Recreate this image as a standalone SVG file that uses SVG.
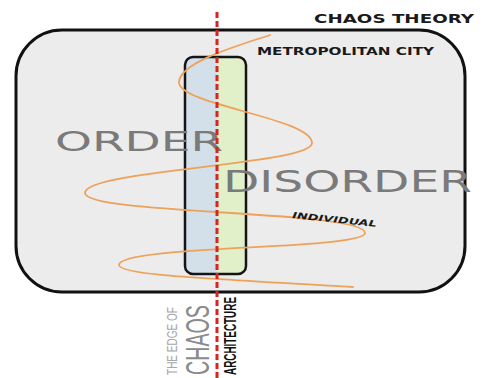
<svg xmlns="http://www.w3.org/2000/svg" width="484" height="378" viewBox="0 0 484 378">
  <style>
    .frame { fill: #ececec; stroke: #111; stroke-width: 3; }
    .pill { fill: none; stroke: #151515; stroke-width: 2.5; }
    .wave { fill: none; stroke: #eda25a; stroke-width: 1.8; stroke-linecap: round; }
    .axis { stroke: #d8231f; stroke-width: 3; stroke-dasharray: 6 3; }
    .big { font-family: "DejaVu Sans", "Liberation Sans", sans-serif; fill: #7a7a7a; }
    .title { font-family: "DejaVu Sans", "Liberation Sans", sans-serif; font-weight: bold; fill: #1a1a1a; }
  </style>
  <rect width="484" height="378" fill="#ffffff"/>
  <g id="frame">
    <rect class="frame" x="16" y="30" width="449" height="262" rx="46" ry="46"/>
  </g>
  <g id="pillar">
    <path d="M217,57 H193 Q185,57 185,65 V266 Q185,274 193,274 H217 Z" fill="#d3e0ea"/>
    <path d="M217,57 H238 Q246,57 246,65 V266 Q246,274 238,274 H217 Z" fill="#e1f0c9"/>
    <rect class="pill" x="185" y="57" width="61" height="217" rx="8" ry="8"/>
  </g>
  <g id="connectors">
    <path id="individual-wave" class="wave" d="M270,35 C240,45 180,62 179,82 C178,105 312,118 312,143 C312,165 85,170 85,193 C85,215 365,210 365,233 C365,250 119,245 119,265 C120,275 200,278 353,287"/>
  </g>
  <g id="labels">
    <text class="title" x="314" y="23" font-size="13" textLength="160" lengthAdjust="spacingAndGlyphs">CHAOS THEORY</text>
    <text id="metropolitan" class="title" x="257" y="55" font-size="10" textLength="177" lengthAdjust="spacingAndGlyphs">METROPOLITAN CITY</text>
    <text id="order" class="big" x="55" y="151" font-size="27" textLength="168" lengthAdjust="spacingAndGlyphs">ORDER</text>
    <text id="disorder" class="big" x="223" y="192" font-size="30" textLength="249" lengthAdjust="spacingAndGlyphs">DISORDER</text>
    <text id="individual" class="title" font-size="8.5" font-style="italic" fill="#333" transform="translate(292,218) rotate(6)" textLength="85" lengthAdjust="spacingAndGlyphs">INDIVIDUAL</text>
    <text id="edge" font-family="Liberation Sans, sans-serif" font-size="15" fill="#a8a8a8" transform="translate(177,375) rotate(-90)" textLength="68" lengthAdjust="spacingAndGlyphs">THE EDGE OF</text>
    <text id="chaos" font-family="Liberation Sans, sans-serif" font-size="33" fill="#8a8a8a" transform="translate(209,375) rotate(-90)" textLength="70" lengthAdjust="spacingAndGlyphs">CHAOS</text>
    <text id="architecture" font-family="Liberation Sans, sans-serif" font-weight="bold" font-size="16" fill="#111" transform="translate(236,375) rotate(-90)" textLength="78" lengthAdjust="spacingAndGlyphs">ARCHITECTURE</text>
  </g>
  <g id="axis">
    <line class="axis" x1="217" y1="12" x2="217" y2="378"/>
  </g>
</svg>
